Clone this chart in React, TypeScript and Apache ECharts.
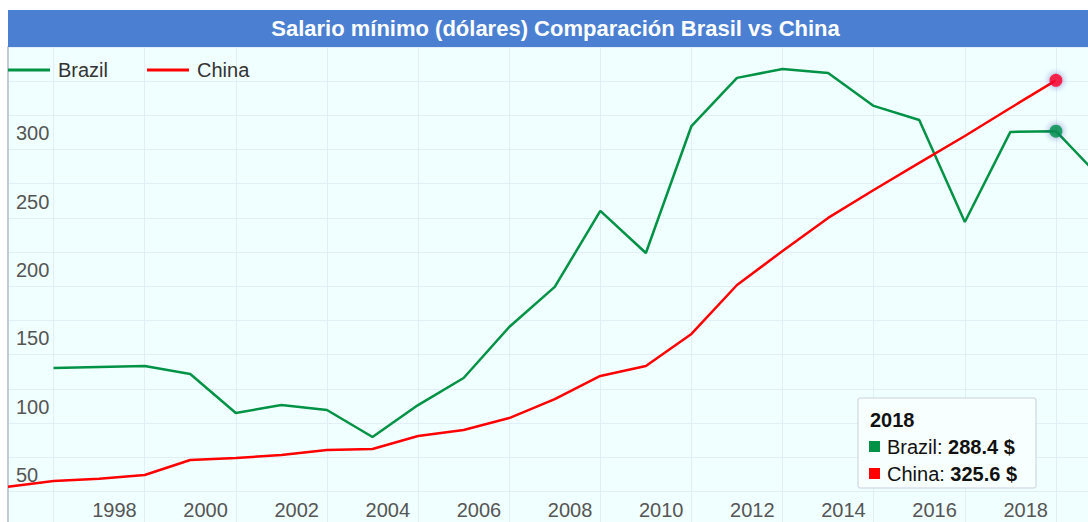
import React, { useEffect, useRef } from 'react';
import * as echarts from 'echarts';

// ---- data ----
const years: string[] = [
  '1995', '1996', '1997', '1998', '1999', '2000', '2001', '2002', '2003', '2004',
  '2005', '2006', '2007', '2008', '2009', '2010', '2011', '2012', '2013', '2014',
  '2015', '2016', '2017', '2018', '2019',
];
const brazil: (number | null)[] = [
  null, 115.2, 116.0, 116.7, 110.8, 82.3, 88.1, 84.5, 64.7, 88.1,
  107.9, 145.2, 174.5, 230.1, 199.3, 292.2, 327.4, 333.9, 331.0, 306.9,
  296.6, 222.0, 287.9, 288.4, 253.6,
];
const china: (number | null)[] = [
  28.4, 32.6, 34.2, 36.9, 47.9, 49.4, 51.6, 55.2, 56.0, 65.5,
  69.9, 78.6, 92.5, 109.4, 116.7, 140.1, 175.9, 200.8, 225.0, 245.4,
  265.2, 284.9, 305.4, 325.6, null,
];
const seriesNames = ['Brazil', 'China'];
const seriesColors = ['#009245', '#FF0000'];
const yMin = 0;
const yMax = 350;
const yStep = 25;
const yLabelStep = 50;
const firstXLabelYear = 1998;
const highlightYear = '2018';
const titleText = 'Salario mínimo (dólares) Comparación Brasil vs China';
const unit = '$';

const FONT = '"Liberation Sans", Arial, sans-serif';

export default function App() {
  const ref = useRef<HTMLDivElement>(null);

  useEffect(() => {
    if (!ref.current) return;
    const chart = echarts.init(ref.current, undefined, { renderer: 'svg' });
    const hi = years.indexOf(highlightYear);
    const showYear = (_i: number, v: string) => Number(v) % 2 === 0;
    const labelYear = (_i: number, v: string) => Number(v) % 2 === 0 && Number(v) >= firstXLabelYear;

    const option: any = {
      animation: false,
      textStyle: { fontFamily: FONT },
      grid: {
        left: 8,
        right: 8.5,
        top: 47,
        bottom: 4.5,
        show: true,
        backgroundColor: '#F0FFFF',
        borderWidth: 0,
        containLabel: false,
        outerBoundsMode: 'none',
      },
      legend: {
        data: seriesNames,
        left: 3,
        top: 55,
        icon: 'rect',
        itemWidth: 42,
        itemHeight: 3,
        itemGap: 39,
        textStyle: { fontSize: 20, color: '#333', fontFamily: FONT, padding: [0, 0, 0, 3] },
      },
      xAxis: {
        type: 'category',
        data: years,
        boundaryGap: false,
        axisLine: { show: false },
        axisTick: { show: false },
        splitLine: { show: true, interval: showYear, lineStyle: { color: '#E2EFF6', width: 1 } },
        axisLabel: {
          inside: true,
          interval: labelYear,
          hideOverlap: false,
          align: 'right',
          padding: [0, 8, 0, 0],
          margin: 6,
          fontSize: 20,
          color: '#555',
          fontFamily: FONT,
        },
      },
      yAxis: {
        type: 'value',
        min: yMin,
        max: yMax,
        interval: yStep,
        axisLine: { show: true, lineStyle: { color: '#C3C9D6', width: 2 } },
        axisTick: { show: false },
        splitLine: { show: true, lineStyle: { color: '#E2EFF6', width: 1 } },
        axisLabel: {
          inside: true,
          margin: 8,
          verticalAlign: 'top',
          padding: [8, 0, 0, 0],
          fontSize: 20,
          color: '#555',
          fontFamily: FONT,
          formatter: (v: number) => (v % yLabelStep === 0 && v > yMin && v < yMax ? String(v) : ''),
        },
      },
      series: [
        {
          name: seriesNames[0],
          type: 'line',
          data: brazil,
          symbol: 'none',
          color: seriesColors[0],
          lineStyle: { width: 2.5, color: seriesColors[0] },
          z: 3,
        },
        {
          name: seriesNames[1],
          type: 'line',
          data: china,
          symbol: 'none',
          color: seriesColors[1],
          lineStyle: { width: 2.5, color: seriesColors[1] },
          z: 3,
        },
        {
          name: 'highlight',
          type: 'scatter',
          symbolSize: 13,
          z: 5,
          data: [
            {
              value: [highlightYear, brazil[hi]],
              itemStyle: { color: seriesColors[0], shadowBlur: 6, shadowColor: 'rgba(40,40,160,0.7)' },
            },
            {
              value: [highlightYear, china[hi]],
              itemStyle: { color: seriesColors[1], shadowBlur: 6, shadowColor: 'rgba(40,40,160,0.7)' },
            },
          ],
        },
      ],
      graphic: [
        {
          type: 'rect',
          shape: { x: 8, y: 10, width: 1095, height: 37 },
          style: { fill: '#4A7FD1' },
          z: 10,
        },
        {
          type: 'text',
          x: 555.5,
          y: 28.5,
          z: 11,
          style: {
            text: titleText,
            fill: '#fff',
            font: `bold 22px ${FONT}`,
            align: 'center',
            verticalAlign: 'middle',
          },
        },
        {
          type: 'rect',
          x: 858,
          y: 398,
          z: 20,
          shape: { x: 0, y: 0, width: 178, height: 90, r: 2 },
          style: { fill: '#F7FFFF', stroke: '#C8CFE0', lineWidth: 1 },
        },
        {
          type: 'text',
          x: 870,
          y: 420,
          z: 21,
          style: {
            text: years[hi],
            fill: '#111',
            font: `bold 20px ${FONT}`,
            verticalAlign: 'middle',
          },
        },
        ...seriesNames.map((n, i) => ({
          type: 'rect',
          x: 869,
          y: 441 + i * 27,
          z: 21,
          shape: { x: 0, y: 0, width: 11, height: 11 },
          style: { fill: seriesColors[i], stroke: 'none' },
        })),
        ...seriesNames.map((n, i) => ({
          type: 'text',
          x: 887,
          y: 447 + i * 27,
          z: 21,
          style: {
            text: `${n}: {b|${(i === 0 ? brazil[hi] : china[hi])!.toFixed(1)} ${unit}}`,
            fill: '#111',
            font: `20px ${FONT}`,
            verticalAlign: 'middle',
            rich: { b: { fontWeight: 'bold', fontSize: 20, fontFamily: FONT, fill: '#111' } },
          },
        })),
      ],
    };
    chart.setOption(option);
    return () => chart.dispose();
  }, []);

  return (
    <div style={{ position: 'fixed', left: 0, top: 0, width: 1088, height: 522, overflow: 'hidden', background: '#fff' }}>
      <div ref={ref} style={{ position: 'absolute', left: 0, top: 0, width: 1110, height: 530 }} />
    </div>
  );
}
